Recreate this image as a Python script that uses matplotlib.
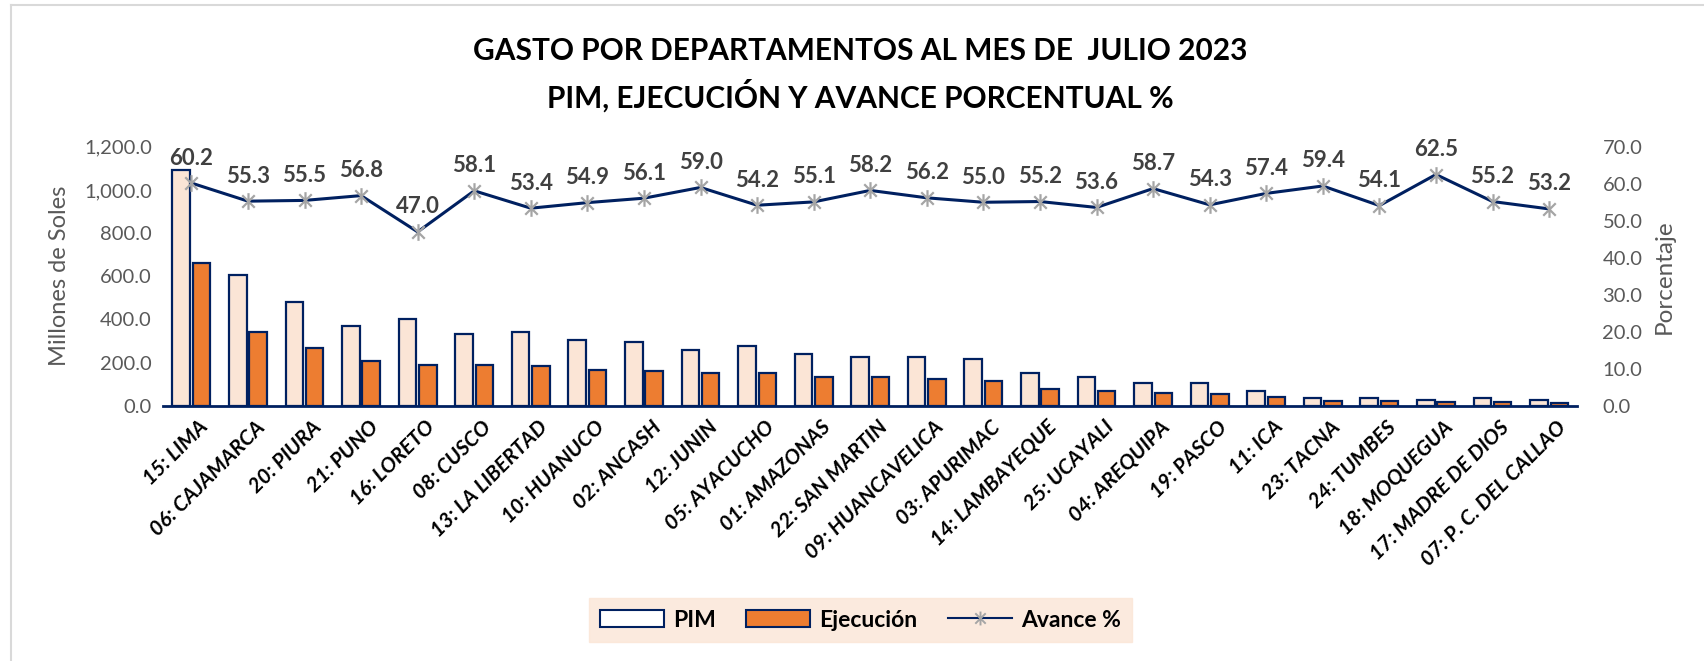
import numpy as np
import matplotlib
matplotlib.use("Agg")
import matplotlib.pyplot as plt
import matplotlib.transforms as mtransforms
from matplotlib.patches import Patch
from matplotlib.lines import Line2D
from matplotlib.path import Path
from matplotlib.ticker import FuncFormatter, MultipleLocator

plt.rcParams['font.family'] = ['Lato', 'DejaVu Sans']

departamentos = ["15: LIMA", "06: CAJAMARCA", "20: PIURA", "21: PUNO", "16: LORETO",
                 "08: CUSCO", "13: LA LIBERTAD", "10: HUANUCO", "02: ANCASH", "12: JUNIN",
                 "05: AYACUCHO", "01: AMAZONAS", "22: SAN MARTIN", "09: HUANCAVELICA",
                 "03: APURIMAC", "14: LAMBAYEQUE", "25: UCAYALI", "04: AREQUIPA",
                 "19: PASCO", "11: ICA", "23: TACNA", "24: TUMBES", "18: MOQUEGUA",
                 "17: MADRE DE DIOS", "07: P. C. DEL CALLAO"]
pim = [1092, 608, 483, 368, 402, 331, 342, 305, 295, 260, 275, 242, 225, 225, 215,
       151, 134, 106, 106, 69, 37, 37, 26, 37, 26]
ejecucion = [660, 340, 268, 207, 187, 188, 185, 168, 162, 152, 150, 133, 132, 126, 116,
             80, 70, 61, 55, 42, 24, 23, 17, 18, 15]
avance = [60.2, 55.3, 55.5, 56.8, 47.0, 58.1, 53.4, 54.9, 56.1, 59.0, 54.2, 55.1, 58.2,
          56.2, 55.0, 55.2, 53.6, 58.7, 54.3, 57.4, 59.4, 54.1, 62.5, 55.2, 53.2]

navy = '#002060'
peach = '#FBE5D6'
orange = '#ED7D31'
gray_txt = '#595959'

# marcador tipo asterisco de Excel (X + linea vertical)
estrella = Path([(0, -1), (0, 1), (-0.75, -0.75), (0.75, 0.75), (-0.75, 0.75), (0.75, -0.75)],
                [Path.MOVETO, Path.LINETO, Path.MOVETO, Path.LINETO, Path.MOVETO, Path.LINETO])

fig = plt.figure(figsize=(17.04, 6.61), dpi=100)
ax = fig.add_axes([0.0957, 0.386, 0.830, 0.392])
ax2 = ax.twinx()

x = np.arange(len(departamentos))
w = 0.31
ax.bar(x - 0.18, pim, w, color=peach, edgecolor=navy, linewidth=1.6, zorder=2)
ax.bar(x + 0.18, ejecucion, w, color=orange, edgecolor=navy, linewidth=1.6, zorder=2)

ax.set_ylim(0, 1200)
ax.set_xlim(-0.5, len(departamentos) - 0.5)
ax.yaxis.set_major_locator(MultipleLocator(200))
ax.yaxis.set_major_formatter(FuncFormatter(lambda v, p: f'{v:,.1f}'))
ax.tick_params(axis='y', length=0, labelsize=14.5, labelcolor=gray_txt, pad=8)
ax.tick_params(axis='x', length=0, pad=8)
ax.set_xticks(x)
ax.set_xticklabels(departamentos, rotation=45, ha='right', va='top',
                   rotation_mode='anchor', fontsize=15, fontweight='bold',
                   fontstyle='italic')
shift = mtransforms.ScaledTranslation(5 / 72, 0, fig.dpi_scale_trans)
for lbl in ax.get_xticklabels():
    lbl.set_transform(lbl.get_transform() + shift)
for s in ['top', 'left', 'right']:
    ax.spines[s].set_visible(False)
    ax2.spines[s].set_visible(False)
ax.spines['bottom'].set_color(navy)
ax.spines['bottom'].set_linewidth(2)
ax2.spines['bottom'].set_visible(False)
ax.set_ylabel('Millones de Soles', fontsize=17, color=gray_txt)
ax.yaxis.set_label_coords(-0.066, 0.5)

ax2.plot(x, avance, color=navy, linewidth=2.2, marker=estrella, markersize=12,
         markeredgecolor='#A5A5A5', markeredgewidth=1.6, zorder=3)
for xi, v in zip(x, avance):
    ax2.annotate(f'{v:.1f}', (xi, v), xytext=(0, 18), textcoords='offset points',
                 ha='center', va='center', fontsize=16, fontweight='bold',
                 color='#404040')
ax2.set_ylim(0, 70)
ax2.yaxis.set_major_locator(MultipleLocator(10))
ax2.yaxis.set_major_formatter(FuncFormatter(lambda v, p: f'{v:.1f}'))
ax2.tick_params(axis='y', length=0, labelsize=14.5, labelcolor=gray_txt, pad=18)
ax2.set_ylabel('Porcentaje', fontsize=17.5, color=gray_txt, labelpad=8)

fig.text(0.505, 0.923, 'GASTO POR DEPARTAMENTOS AL MES DE  JULIO 2023', ha='center',
         va='center', fontsize=21.5, fontweight='bold')
fig.text(0.505, 0.855, 'PIM, EJECUCIÓN Y AVANCE PORCENTUAL %', ha='center',
         va='center', fontsize=21.5, fontweight='bold')

handles = [Patch(facecolor='white', edgecolor=navy, linewidth=1.5),
           Patch(facecolor=orange, edgecolor=navy, linewidth=1.5),
           Line2D([], [], color=navy, linewidth=1.5, marker=estrella, markersize=10,
                  markeredgecolor='#A5A5A5', markeredgewidth=1.4)]
leg = fig.legend(handles, ['PIM', 'Ejecución', 'Avance %'], loc='center',
                 bbox_to_anchor=(0.505, 0.062), ncol=3, frameon=True, fancybox=False,
                 prop={'size': 16.5, 'weight': 'bold'}, handlelength=2.8,
                 handleheight=0.8, columnspacing=1.3, handletextpad=0.4,
                 borderpad=0.5)
leg.get_frame().set_facecolor(peach)
leg.get_frame().set_edgecolor(peach)

# borde del area del grafico
fig.add_artist(Line2D([0.0065, 0.0065], [0, 0.992], transform=fig.transFigure,
                      color='#D9D9D9', linewidth=1.5))
fig.add_artist(Line2D([0.0065, 1], [0.992, 0.992], transform=fig.transFigure,
                      color='#D9D9D9', linewidth=1.5))

fig.savefig('out.png', dpi=100)
